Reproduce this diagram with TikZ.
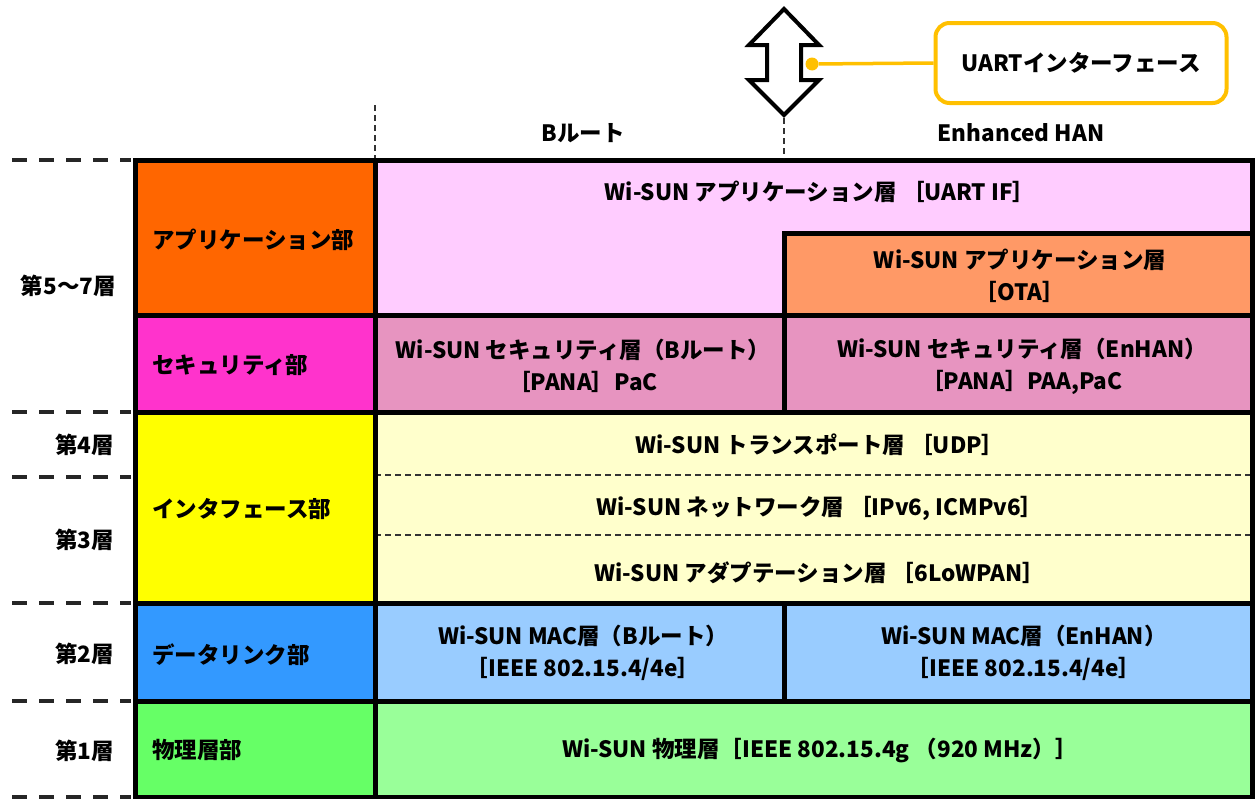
\documentclass[tikz,border=0pt]{standalone}
\usepackage{fontspec}
\setmainfont{Noto Sans CJK JP}
\definecolor{cApp}{HTML}{FF6600}
\definecolor{cSec}{HTML}{FF33CC}
\definecolor{cIf}{HTML}{FFFF00}
\definecolor{cDl}{HTML}{3399FF}
\definecolor{cPh}{HTML}{66FF66}
\definecolor{lApp}{HTML}{FFCCFF}
\definecolor{lOta}{HTML}{FF9966}
\definecolor{lSec}{HTML}{E794C0}
\definecolor{lIf}{HTML}{FFFFCC}
\definecolor{lDl}{HTML}{99CCFF}
\definecolor{lPh}{HTML}{99FF99}
\definecolor{gold}{HTML}{FFC000}
\begin{document}
\begin{tikzpicture}[x=1pt,y=-1pt,
  blk/.style={draw=black, line width=5pt},
  txt/.style={font=\bfseries\fontsize{22.5}{32}\selectfont, align=center, inner sep=0pt, text=black},
  layerdash/.style={line width=3.5pt, dash pattern=on 15pt off 12pt, black!85},
  thindash/.style={line width=1.3pt, dash pattern=on 6pt off 4pt, black!80}]
\useasboundingbox[fill=white] (0,0) rectangle (1255,798);

% fills
\fill[cApp] (135,160) rectangle (375,315);
\fill[cSec] (135,315) rectangle (375,412);
\fill[cIf]  (135,412) rectangle (375,603);
\fill[cDl]  (135,603) rectangle (375,701);
\fill[cPh]  (135,701) rectangle (375,797);
\fill[lApp] (375,160) rectangle (1252,315);
\fill[lOta] (784,233) rectangle (1252,315);
\fill[lSec] (375,315) rectangle (1252,412);
\fill[lIf]  (375,412) rectangle (1252,603);
\fill[lDl]  (375,603) rectangle (1252,701);
\fill[lPh]  (375,701) rectangle (1252,797);

% inner dashed separators
\draw[thindash] (375,475) -- (1252,475);
\draw[thindash] (375,535) -- (1252,535);

% borders
\draw[blk] (135,160) rectangle (375,797);
\draw[blk] (375,160) rectangle (1252,797);
\foreach \yy in {315,412,603,701} \draw[blk] (135,\yy) -- (1252,\yy);
\draw[blk] (784,315) |- (1252,233);
\draw[blk] (784,315) -- (784,412);
\draw[blk] (784,603) -- (784,701);

% left dashed layer lines
\foreach \yy in {160,412,477,603,701,797} \draw[layerdash] (12,\yy) -- (131,\yy);

% header dashed verticals
\draw[thindash] (375,105) -- (375,158);
\draw[thindash] (784,118) -- (784,158);

% double arrow
\draw[line width=4pt, fill=white, line join=miter]
  (784,9) -- (819,45) -- (801,45) -- (801,80) -- (819,80) -- (784,115)
  -- (749,80) -- (767,80) -- (767,45) -- (749,45) -- cycle;

% UART callout
\node[txt, draw=gold, line width=4pt, rounded corners=14pt, minimum width=291pt, minimum height=80pt] (uart) at (1081,63) {UARTインターフェース};
\node[circle, fill=gold, minimum size=13pt, inner sep=0pt] (dot) at (812,64) {};
\draw[gold, line width=3.5pt] (dot) -- (uart.west);

% headers
\node[txt] (hB) at (583,133) {Bルート};
\node[txt] (hE) at (1021,133) {Enhanced HAN};

% left labels
\node[txt, anchor=east] (l57) at (116,286) {第5～7層};
\node[txt, anchor=east] (l4) at (114,445) {第4層};
\node[txt, anchor=east] (l3) at (114,540) {第3層};
\node[txt, anchor=east] (l2) at (114,654) {第2層};
\node[txt, anchor=east] (l1) at (114,751) {第1層};

% part labels
\node[txt, anchor=west] (pApp) at (152,240) {アプリケーション部};
\node[txt, anchor=west] (pSec) at (152,365) {セキュリティ部};
\node[txt, anchor=west] (pIf)  at (152,509) {インタフェース部};
\node[txt, anchor=west] (pDl)  at (152,655) {データリンク部};
\node[txt, anchor=west] (pPh)  at (152,750) {物理層部};

% layer texts
\node[txt] (tApp) at (820,192) {Wi-SUN アプリケーション層 ［UART IF］};
\node[txt] (tOta) at (1020,276) {Wi-SUN アプリケーション層\\［OTA］};
\node[txt] (tSecB) at (583,366) {Wi-SUN セキュリティ層（Bルート）\\［PANA］PaC};
\node[txt] (tSecE) at (1022,366) {Wi-SUN セキュリティ層（EnHAN）\\［PANA］PAA,PaC};
\node[txt] (tUdp) at (820,445) {Wi-SUN トランスポート層 ［UDP］};
\node[txt] (tNet) at (820,508) {Wi-SUN ネットワーク層 ［IPv6, ICMPv6］};
\node[txt] (tAda) at (820,573) {Wi-SUN アダプテーション層 ［6LoWPAN］};
\node[txt] (tMacB) at (583,653) {Wi-SUN MAC層（Bルート）\\［IEEE 802.15.4/4e］};
\node[txt] (tMacE) at (1024,653) {Wi-SUN MAC層（EnHAN）\\［IEEE 802.15.4/4e］};
\node[txt] (tPhy) at (820,750) {Wi-SUN 物理層［IEEE 802.15.4g （920 MHz）］};
\end{tikzpicture}
\end{document}
